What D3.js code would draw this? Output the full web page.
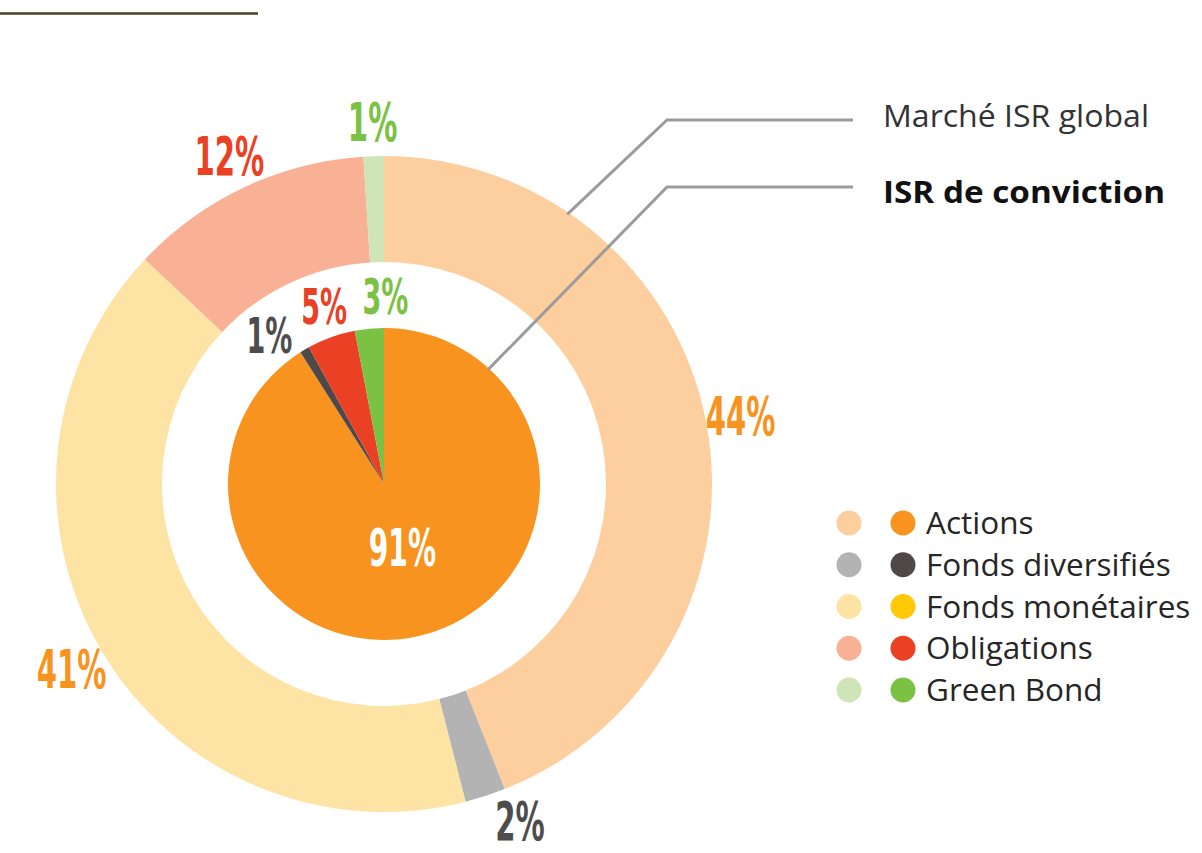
<!DOCTYPE html>
<html>
<head>
<meta charset="utf-8">
<script src="https://cdn.jsdelivr.net/npm/d3@7"></script>
<style>
  html, body { margin: 0; padding: 0; background: #fff; }
  svg { display: block; }
</style>
</head>
<body>
<svg id="chart"></svg>
<script>
// Répartition des encours ISR par classe d'actifs

const categories = ["Actions", "Fonds diversifiés", "Fonds monétaires", "Obligations", "Green Bond"];
const globalValues = [44, 2, 41, 12, 1];      // anneau extérieur : Marché ISR global
const convictionValues = [91, 1, 0, 5, 3];    // camembert intérieur : ISR de conviction
const lightColors = ["#fdcf9f", "#b3b3b3", "#fee4a4", "#f8b195", "#cfe5b7"];
const darkColors = ["#f7931e", "#4e4849", "#ffc907", "#ea4024", "#7bc143"];
const labelColors = ["#f7931e", "#4d4d4d", "#f7931e", "#ea4024", "#7bc143"];
const seriesNames = ["Marché ISR global", "ISR de conviction"];

const WIDTH = 1202;
const HEIGHT = 853;
const CX = 384;
const CY = 484;
const OUTER_R = 328;
const RING_INNER_R = 222;
const PIE_R = 156;
const LABEL_FONT = "'Liberation Sans Narrow', 'DejaVu Sans Condensed', Arial, sans-serif";
const TEXT_FONT = "'Open Sans', 'Noto Sans', sans-serif";

const svg = d3.select("#chart")
    .attr("width", WIDTH)
    .attr("height", HEIGHT);

// trait décoratif en haut à gauche
svg.append("line")
    .attr("x1", 0).attr("y1", 13.5)
    .attr("x2", 258).attr("y2", 13.5)
    .attr("stroke", "#4a3f22")
    .attr("stroke-width", 2.5);

const g = svg.append("g")
    .attr("transform", `translate(${CX}, ${CY})`);

const pie = d3.pie().sort(null).value(d => d.value);

const outerData = pie(categories.map((c, i) => ({ cat: c, i, value: globalValues[i] })));
const innerData = pie(categories.map((c, i) => ({ cat: c, i, value: convictionValues[i] })));

const ringArc = d3.arc().innerRadius(RING_INNER_R).outerRadius(OUTER_R);
const pieArc = d3.arc().innerRadius(0).outerRadius(PIE_R);

g.selectAll("path.outer")
    .data(outerData)
    .join("path")
    .attr("class", "outer")
    .attr("d", ringArc)
    .attr("fill", d => lightColors[d.data.i]);

g.selectAll("path.inner")
    .data(innerData.filter(d => d.data.value > 0))
    .join("path")
    .attr("class", "inner")
    .attr("d", pieArc)
    .attr("fill", d => darkColors[d.data.i]);

// étiquettes en police condensée (compressée horizontalement)
function addLabel(parent, x, y, txt, color, size) {
    parent.append("g")
        .attr("transform", `translate(${x}, ${y}) scale(0.6, 1)`)
        .append("text")
        .attr("text-anchor", "middle")
        .attr("y", size * 0.36)
        .attr("font-family", LABEL_FONT)
        .attr("font-weight", "bold")
        .attr("font-size", size)
        .attr("fill", color)
        .text(txt);
}

const OUTER_LABEL_SIZE = 54;
const OUTER_LABEL_R = 363;
const outerLabelArc = d3.arc().innerRadius(OUTER_LABEL_R).outerRadius(OUTER_LABEL_R);
// limite basse : si l'étiquette sort de l'image, on la fait glisser le long du cercle
const maxLabelY = HEIGHT - CY - OUTER_LABEL_SIZE * 0.6;
outerData.forEach(d => {
    let [x, y] = outerLabelArc.centroid(d);
    if (y > maxLabelY) {
        y = maxLabelY;
        x = Math.sign(x) * Math.sqrt(OUTER_LABEL_R * OUTER_LABEL_R - y * y);
    }
    addLabel(g, x, y, d.data.value + "%", labelColors[d.data.i], OUTER_LABEL_SIZE);
});

// le 91 % au centre, les petites parts autour avec un écart angulaire minimum
const innerVisible = innerData.filter(d => d.data.value > 0);
const big = innerVisible[0];
const centerLabelArc = d3.arc().innerRadius(66).outerRadius(66);
const [bx, by] = centerLabelArc.centroid(big);
addLabel(g, bx, by, big.data.value + "%", "#ffffff", 52);

const small = innerVisible.slice(1).map(d => ({ d, a: (d.startAngle + d.endAngle) / 2 }));
const MIN_GAP = 19 * Math.PI / 180;
for (let iter = 0; iter < 200; iter++) {
    for (let k = 1; k < small.length; k++) {
        const gap = small[k].a - small[k - 1].a;
        if (gap < MIN_GAP) {
            const push = (MIN_GAP - gap) / 2;
            small[k].a += push;
            small[k - 1].a -= push;
        }
    }
}
const INNER_LABEL_R = 188;
small.forEach(s => {
    const x = Math.sin(s.a) * INNER_LABEL_R;
    const y = -Math.cos(s.a) * INNER_LABEL_R;
    addLabel(g, x, y, s.d.data.value + "%", labelColors[s.d.data.i], 50);
});

// lignes de rappel vers les noms des séries
const leaders = [
    { name: seriesNames[0], r: OUTER_R - 2, angle: 0.19 * Math.PI, elbowX: 667, y: 120, textY: 127, bold: false },
    { name: seriesNames[1], r: PIE_R - 1, angle: 0.235 * Math.PI, elbowX: 667, y: 187, textY: 203, bold: true }
];
leaders.forEach(l => {
    const sx = CX + Math.sin(l.angle) * l.r;
    const sy = CY - Math.cos(l.angle) * l.r;
    svg.append("polyline")
        .attr("points", `${sx},${sy} ${l.elbowX},${l.y} 853,${l.y}`)
        .attr("fill", "none")
        .attr("stroke", "#9b9b9b")
        .attr("stroke-width", 3);
    svg.append("text")
        .attr("x", 883)
        .attr("y", l.textY)
        .attr("font-family", TEXT_FONT)
        .attr("font-size", 31)
        .attr("font-weight", l.bold ? "bold" : "normal")
        .attr("fill", l.bold ? "#111" : "#333")
        .attr("textLength", l.bold ? 282 : 266)
        .attr("lengthAdjust", "spacingAndGlyphs")
        .text(l.name);
});

// légende
const legendY = d3.scalePoint().domain(categories).range([523, 690]);
const legend = svg.append("g");
categories.forEach((c, i) => {
    const y = legendY(c);
    legend.append("circle").attr("cx", 849).attr("cy", y).attr("r", 12.5).attr("fill", lightColors[i]);
    legend.append("circle").attr("cx", 903).attr("cy", y).attr("r", 12.5).attr("fill", darkColors[i]);
    legend.append("text")
        .attr("x", 926)
        .attr("y", y + 11)
        .attr("font-family", TEXT_FONT)
        .attr("font-size", 31.5)
        .attr("fill", "#262626")
        .text(c);
});
</script>
</body>
</html>
